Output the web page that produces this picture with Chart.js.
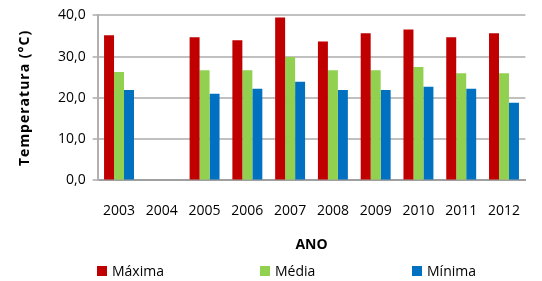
<!DOCTYPE html>
<html>
<head>
<meta charset="utf-8">
<script src="https://cdn.jsdelivr.net/npm/chart.js@4/dist/chart.umd.min.js"></script>
<style>
  html, body { margin: 0; padding: 0; background: #fff; }
  #wrap { width: 542px; height: 281px; position: relative; }
</style>
</head>
<body>
<div id="wrap"><canvas id="chart" width="542" height="281"></canvas></div>
<script>
// dados
const anos = ['2003', '2004', '2005', '2006', '2007', '2008', '2009', '2010', '2011', '2012'];
const maxima = [35.2, null, 34.7, 34.0, 39.5, 33.7, 35.7, 36.6, 34.7, 35.7];
const media  = [26.3, null, 26.7, 26.7, 29.9, 26.7, 26.7, 27.5, 26.0, 26.0];
const minima = [21.9, null, 21.0, 22.2, 23.9, 21.9, 21.9, 22.7, 22.2, 18.8];
const yTicks = [0, 10, 20, 30, 40];

const FONT = "'Open Sans', sans-serif";

// legenda e título do eixo Y desenhados à mão (espaçamento de letras como no original)
const extrasPlugin = {
  id: 'extras',
  afterDraw(chart) {
    const ctx = chart.ctx;
    const area = chart.chartArea;
    ctx.save();
    // título do eixo Y
    ctx.translate(25, (area.top + area.bottom) / 2);
    ctx.rotate(-Math.PI / 2);
    ctx.font = 'bold 14px ' + FONT;
    ctx.letterSpacing = '1px';
    ctx.textAlign = 'center';
    ctx.textBaseline = 'middle';
    ctx.fillStyle = '#000';
    ctx.fillText('Temperatura (°C)', 0, 0);
    ctx.restore();

    const posX = [97, 260, 412];
    ctx.save();
    ctx.font = '14px ' + FONT;
    ctx.textBaseline = 'middle';
    chart.data.datasets.forEach((ds, i) => {
      ctx.fillStyle = ds.backgroundColor;
      ctx.fillRect(posX[i], 266, 10, 10);
      ctx.fillStyle = '#000';
      ctx.fillText(ds.label, posX[i] + 15, 272);
    });
    ctx.restore();
  }
};

new Chart(document.getElementById('chart'), {
  type: 'bar',
  data: {
    labels: anos,
    datasets: [
      { label: 'Máxima', data: maxima, backgroundColor: '#c00000' },
      { label: 'Média', data: media, backgroundColor: '#92d050' },
      { label: 'Mínima', data: minima, backgroundColor: '#0070c0' }
    ]
  },
  options: {
    responsive: false,
    animation: false,
    layout: { padding: { top: 8, right: 0, bottom: 28, left: 51 } },
    datasets: { bar: { barPercentage: 1.0, categoryPercentage: 0.7 } },
    scales: {
      x: {
        grid: { display: false, drawTicks: false },
        border: { color: '#a0a0a0', width: 2 },
        ticks: { color: '#000', font: { family: FONT, size: 14 }, padding: 22, maxRotation: 0 },
        title: { display: true, text: 'ANO', color: '#000', font: { family: FONT, size: 14, weight: 'bold' }, padding: { top: -5, bottom: 0 } }
      },
      y: {
        min: 0, max: 40,
        afterBuildTicks: (axis) => { axis.ticks = yTicks.map(v => ({ value: v })); },
        grid: { color: '#c0c0c0', lineWidth: 2, tickLength: 5 },
        border: { color: '#b0b0b0', width: 2 },
        ticks: {
          color: '#000', font: { family: FONT, size: 14 }, padding: 7,
          callback: (v) => v.toFixed(1).replace('.', ',')
        }
      }
    },
    plugins: {
      legend: { display: false },
      tooltip: { enabled: false }
    }
  },
  plugins: [extrasPlugin]
});
</script>
</body>
</html>
